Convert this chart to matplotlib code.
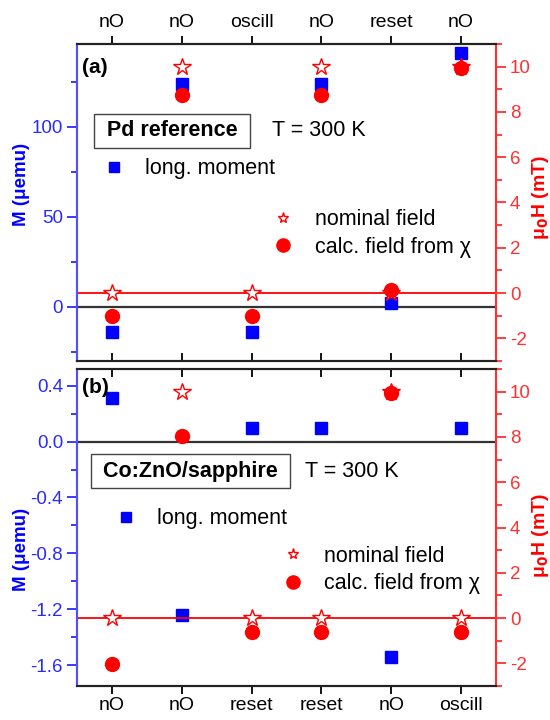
import matplotlib
matplotlib.use("Agg")
import matplotlib.pyplot as plt
from matplotlib.ticker import MultipleLocator, FormatStrFormatter

plt.rcParams['font.family'] = ['Liberation Sans', 'DejaVu Sans']
plt.rcParams['axes.unicode_minus'] = False

# measurement sequence (x positions 1..6)
steps = [1, 2, 3, 4, 5, 6]
top_labels = ['nO', 'nO', 'oscill', 'nO', 'reset', 'nO']
bottom_labels = ['nO', 'nO', 'reset', 'reset', 'nO', 'oscill']

# Pd reference: moment in uemu, fields in mT
pd_moment = [-14, 124, -14, 124, 2, 141]
pd_nominal = [0, 10, 0, 10, 0, 10]
pd_calc = [-1.0, 8.75, -1.0, 8.75, 0.15, 9.95]

# Co:ZnO/sapphire
co_moment = [0.31, -1.24, 0.095, 0.10, -1.54, 0.095]
co_nominal = [0, 10, 0, 0, 10, 0]
co_calc = [-2.03, 8.05, -0.6, -0.6, 9.95, -0.6]

BLUE = '#0000ff'
BLUE_AX = '#2a2aff'
RED = '#ff0000'
RED_AX = '#ff3030'
FS = 13.5
TXT = 15.5


def panel(ax, moment, nominal, calc, ylim, major, minor, tag, sample,
          leg1_pos, leg2_pos, label_y, rlabel_y, labels_on_top):
    tw = ax.twinx()

    ax.axhline(0, color='#333333', lw=1.6, zorder=1)
    ax.plot(steps, moment, 's', color=BLUE, ms=9, label='long. moment', zorder=3)
    tw.axhline(0, color=RED, lw=1.3, zorder=1)
    tw.plot(steps, nominal, '*', mfc='white', mec=RED, mew=1.0, ms=13,
            label='nominal field', zorder=3)
    tw.plot(steps, calc, 'o', color=RED, ms=10, label='calc. field from χ', zorder=4)

    ax.set_xlim(0.5, 6.5)
    ax.set_ylim(*ylim)
    tw.set_ylim(-3, 11)

    ax.set_xticks(steps)
    if labels_on_top:
        ax.xaxis.tick_top()
        ax.set_xticklabels(top_labels)
        ax.tick_params(axis='x', which='both', top=True, bottom=True,
                       labeltop=True, labelbottom=False)
        ax.tick_params(axis='x', which='major', direction='out', length=6,
                       width=1.3, pad=3, labelsize=14)
        # inward ticks at the bottom edge
        for t in ax.xaxis.get_major_ticks():
            t.tick1line.set_marker(2)
    else:
        ax.set_xticklabels(bottom_labels)
        ax.tick_params(axis='x', which='both', top=True, bottom=True,
                       labeltop=False, labelbottom=True)
        ax.tick_params(axis='x', which='major', direction='out', length=6,
                       width=1.3, pad=2, labelsize=14)
        for t in ax.xaxis.get_major_ticks():
            t.tick2line.set_marker(3)

    ax.yaxis.set_major_locator(MultipleLocator(major))
    ax.yaxis.set_minor_locator(MultipleLocator(minor))
    tw.yaxis.set_major_locator(MultipleLocator(2))
    tw.yaxis.set_minor_locator(MultipleLocator(1))
    ax.tick_params(axis='y', which='major', length=7, width=1.3, colors=BLUE_AX,
                   labelsize=FS, pad=3)
    ax.tick_params(axis='y', which='minor', length=4, width=1.3, colors=BLUE_AX)
    tw.tick_params(axis='y', which='major', length=7, width=1.3, colors=RED_AX,
                   labelsize=FS, pad=3)
    tw.tick_params(axis='y', which='minor', length=4, width=1.3, colors=RED_AX)

    for a in (ax, tw):
        a.spines['top'].set_color('#222222')
        a.spines['bottom'].set_color('#222222')
        for s in a.spines.values():
            s.set_linewidth(1.5)
    ax.spines['right'].set_visible(False)
    tw.spines['left'].set_color('#5050ff')
    ax.spines['left'].set_color('#5050ff')
    tw.spines['right'].set_color(RED_AX)

    ax.set_ylabel('M (μemu)', color=BLUE, fontsize=13.5, fontweight='bold')
    ax.yaxis.set_label_coords(-0.112, label_y)
    tw.set_ylabel('μ$_\\mathbf{0}$H (mT)', color=RED, fontsize=14, fontweight='bold')
    tw.yaxis.set_label_coords(1.081, rlabel_y)

    ax.text(0.012, tag[1], tag[0], transform=ax.transAxes, fontsize=15,
            fontweight='bold', ha='left', va='center')
    ax.text(sample[1], sample[2], ' ' + sample[0] + ' ', transform=ax.transAxes,
            fontsize=TXT, fontweight='bold', ha='center', va='center',
            bbox=dict(boxstyle='square,pad=0.3', fc='white', ec='#444444', lw=1.0))
    ax.text(sample[3], sample[2], 'T = 300 K', transform=ax.transAxes,
            fontsize=TXT, ha='left', va='center')

    leg1 = ax.legend(loc='center left', bbox_to_anchor=leg1_pos, frameon=False,
                     fontsize=TXT, handlelength=1.0, handletextpad=0.95,
                     borderpad=0, borderaxespad=0)
    leg1.legend_handles[0].set_markersize(7)
    leg2 = tw.legend(loc='center left', bbox_to_anchor=leg2_pos, frameon=False,
                     fontsize=TXT, handlelength=1.0, handletextpad=0.95,
                     borderpad=0, borderaxespad=0, labelspacing=0.32)
    leg2.legend_handles[0].set_markersize(8)
    leg2.legend_handles[1].set_markersize(9.5)
    return tw


fig = plt.figure(figsize=(5.5, 7.2), dpi=100)
ax_a = fig.add_axes([0.14, 0.4986, 0.762, 0.4403])
ax_b = fig.add_axes([0.14, 0.0472, 0.762, 0.4403])

panel(ax_a, pd_moment, pd_nominal, pd_calc, (-30, 146), 50, 25,
      ('(a)', 0.927), ('Pd reference', 0.227, 0.7256, 0.465),
      (0.062, 0.606), (0.467, 0.402), 0.558, 0.517, True)
panel(ax_b, co_moment, co_nominal, co_calc, (-1.75, 0.52), 0.4, 0.2,
      ('(b)', 0.943), ('Co:ZnO/sapphire', 0.271, 0.678, 0.544),
      (0.0915, 0.527), (0.4886, 0.366), 0.432, 0.476, False)
ax_b.yaxis.set_major_formatter(FormatStrFormatter('%.1f'))

fig.savefig('out.png', dpi=100)
